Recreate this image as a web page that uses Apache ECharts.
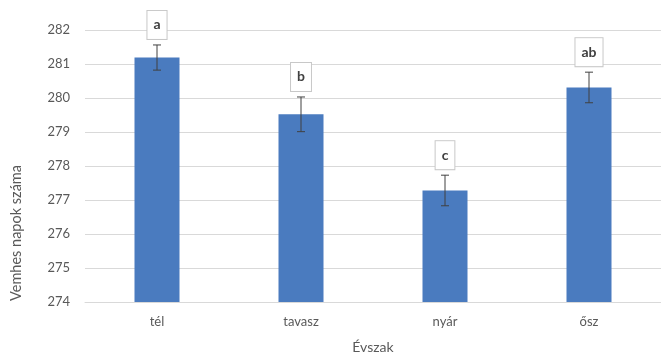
<!DOCTYPE html>
<html>
<head>
<meta charset="utf-8">
<script src="https://cdn.jsdelivr.net/npm/echarts@6/dist/echarts.min.js"></script>
<style>
  html, body { margin: 0; padding: 0; background: #fff; }
  #chart { width: 661px; height: 359px; }
</style>
</head>
<body>
<div id="chart"></div>
<script>
// Seasons and mean number of gestation days, with standard error and group letters
const seasons = ['tél', 'tavasz', 'nyár', 'ősz'];
const meanDays = [281.19, 279.52, 277.28, 280.31];
const errorDays = [0.37, 0.51, 0.45, 0.45];
const groupLetters = ['a', 'b', 'c', 'ab'];
const yTicks = { min: 274, max: 282, interval: 1 };

const FONT = 'Lato, "Open Sans", sans-serif';
const TEXT_GRAY = '#595959';

const chart = echarts.init(document.getElementById('chart'), null, { renderer: 'canvas' });

const errorData = seasons.map((s, i) => [i, meanDays[i] - errorDays[i], meanDays[i] + errorDays[i], groupLetters[i]]);

chart.setOption({
  animation: false,
  backgroundColor: '#ffffff',
  grid: { left: 85, right: 0, top: 30, bottom: 53, containLabel: false },
  xAxis: {
    type: 'category',
    data: seasons,
    name: 'Évszak',
    nameLocation: 'middle',
    nameGap: 38,
    nameTextStyle: { color: TEXT_GRAY, fontFamily: FONT, fontSize: 14 },
    axisLine: { lineStyle: { color: '#d9d9d9', width: 1 } },
    axisTick: { show: false },
    axisLabel: { color: TEXT_GRAY, fontFamily: FONT, fontSize: 13, margin: 13 }
  },
  yAxis: {
    type: 'value',
    min: yTicks.min,
    max: yTicks.max,
    interval: yTicks.interval,
    axisLine: { show: false },
    axisTick: { show: false },
    axisLabel: { color: TEXT_GRAY, fontFamily: FONT, fontSize: 13, margin: 15 },
    splitLine: { lineStyle: { color: '#d9d9d9', width: 1 } }
  },
  graphic: [{
    type: 'text',
    x: 16,
    y: 233,
    rotation: Math.PI / 2,
    style: {
      text: 'Vemhes napok száma',
      fill: TEXT_GRAY,
      font: '14.5px ' + FONT,
      align: 'center',
      verticalAlign: 'middle'
    }
  }],
  series: [
    {
      type: 'bar',
      data: meanDays,
      barWidth: 45,
      itemStyle: { color: '#4a7bbf' }
    },
    {
      type: 'custom',
      data: errorData,
      z: 10,
      renderItem: function (params, api) {
        const x = api.value(0);
        const low = api.coord([x, api.value(1)]);
        const high = api.coord([x, api.value(2)]);
        const cap = 4;
        const stroke = { stroke: '#404040', lineWidth: 1 };
        return {
          type: 'group',
          children: [
            { type: 'line', shape: { x1: low[0], y1: low[1], x2: high[0], y2: high[1] }, style: stroke },
            { type: 'line', shape: { x1: low[0] - cap, y1: low[1], x2: low[0] + cap, y2: low[1] }, style: stroke },
            { type: 'line', shape: { x1: high[0] - cap, y1: high[1], x2: high[0] + cap, y2: high[1] }, style: stroke },
            {
              type: 'text',
              x: high[0],
              y: high[1] - 6,
              style: {
                text: api.value(3),
                font: 'bold 14px ' + FONT,
                fill: '#404040',
                align: 'center',
                verticalAlign: 'bottom',
                backgroundColor: '#ffffff',
                borderColor: '#c8c8c8',
                borderWidth: 1,
                padding: [7, 6, 7, 6]
              }
            }
          ]
        };
      }
    }
  ]
});
</script>
</body>
</html>
